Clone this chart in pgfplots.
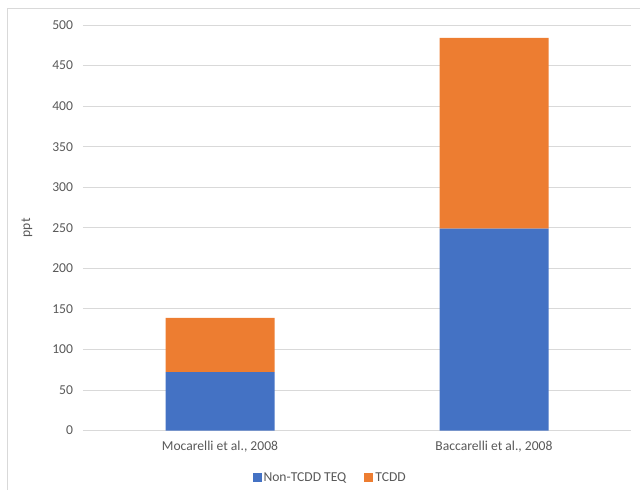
\documentclass[border=0pt]{standalone}
\usepackage{pgfplots}
\pgfplotsset{compat=1.18}
\usepackage{fontspec}
\setmainfont{Carlito}
\definecolor{cblue}{HTML}{4472C4}
\definecolor{corange}{HTML}{ED7D31}
\definecolor{gridc}{HTML}{D9D9D9}
\definecolor{txt}{HTML}{595959}
\begin{document}
\begin{tikzpicture}
\path[use as bounding box] (0pt,0pt) rectangle (640pt,490pt);
\draw[gridc,line width=0.8pt] (7pt,0pt) -- (7pt,482pt) -- (640pt,482pt);
\begin{axis}[
  at={(83pt,59.5pt)}, anchor=south west,
  scale only axis, width=548pt, height=405.5pt,
  ybar stacked, bar width=109pt,
  xmin=-0.5, xmax=1.5,
  ymin=0, ymax=500, ytick distance=50,
  xtick=data, xticklabels={{Mocarelli et al., 2008}, {Baccarelli et al., 2008}},
  xticklabel style={anchor=center, yshift=-16.5pt},
  ymajorgrids, grid style={gridc, line width=0.9pt},
  axis x line*=bottom, axis y line*=left,
  x axis line style={gridc, line width=0.9pt, -},
  y axis line style={draw=none},
  major tick length=0pt,
  tick label style={font=\fontsize{13.6}{16}\selectfont, text=txt},
  label style={font=\fontsize{13.6}{16}\selectfont, text=txt},
  /pgf/number format/assume math mode=true,
  yticklabel style={anchor=east, xshift=-6.5pt},
  ylabel={ppt}, ylabel style={at={(axis description cs:0,0.5)}, anchor=center, yshift=56pt},
  legend style={draw=none, at={(0.451,-0.117)}, anchor=center, legend columns=-1,
    column sep=0pt, font=\fontsize{13.6}{16}\selectfont, text=txt,
    nodes={inner xsep=2pt},
    /tikz/every even column/.append style={column sep=16pt}},
  legend image code/.code={\fill[#1] (0pt,-4.5pt) rectangle (9pt,4.5pt);},
  clip=false,
]
\addplot[fill=cblue, draw=none] coordinates {(0,72) (1,249)};
\addplot[fill=corange, draw=none] coordinates {(0,67) (1,235)};
\legend{Non-TCDD TEQ, TCDD}
\end{axis}
\end{tikzpicture}
\end{document}
